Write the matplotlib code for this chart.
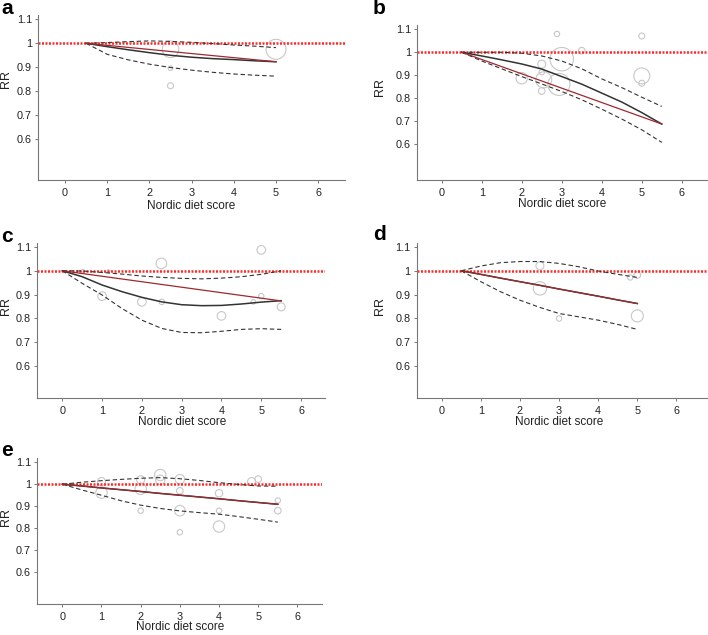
import matplotlib
matplotlib.use("Agg")
import matplotlib.pyplot as plt

plt.rcParams["font.family"] = ["Liberation Sans", "DejaVu Sans"]

W, H = 708, 635

# --- panel a ---
a_x = [0.5, 1, 1.5, 2, 2.5, 3, 3.5, 4, 4.5, 5]
a_fit = [1.0, 0.986, 0.973, 0.961, 0.950, 0.942, 0.936, 0.932, 0.927, 0.923]
a_up = [1.0, 1.003, 1.007, 1.010, 1.008, 1.004, 0.999, 0.993, 0.988, 0.982]
a_lo = [1.0, 0.954, 0.931, 0.913, 0.899, 0.888, 0.879, 0.872, 0.867, 0.863]
a_lin = [1.0, 0.923]
a_px = [2.5, 2.5, 2.5, 5.0]
a_py = [0.975, 0.896, 0.823, 0.975]
a_w = [8.3, 2.3, 3.0, 10.0]

# --- panel b ---
b_x = [0.5, 1, 1.5, 2, 2.5, 3, 3.5, 4, 4.5, 5, 5.5]
b_fit = [1.0, 0.984, 0.967, 0.949, 0.927, 0.894, 0.861, 0.822, 0.783, 0.737, 0.687]
b_up = [1.0, 1.0, 1.0, 0.996, 0.984, 0.962, 0.928, 0.884, 0.846, 0.804, 0.764]
b_lo = [1.0, 0.962, 0.928, 0.894, 0.862, 0.829, 0.793, 0.752, 0.709, 0.662, 0.607]
b_lin = [1.0, 0.687]
b_px = [2.88, 5.0, 3.5, 3.0, 2.5, 2.5, 2.0, 2.55, 2.93, 2.5, 5.0, 5.0]
b_py = [1.08, 1.071, 1.007, 0.97, 0.948, 0.913, 0.887, 0.88, 0.86, 0.831, 0.897, 0.865]
b_w = [2.7, 3.0, 3.3, 11.7, 4.0, 2.7, 5.7, 8.0, 11.0, 3.3, 8.0, 3.0]

# --- panel c ---
c_x = [0, 0.5, 1, 1.5, 2, 2.5, 3, 3.5, 4, 4.5, 5, 5.5]
c_fit = [1.0, 0.975, 0.940, 0.912, 0.888, 0.869, 0.857, 0.853, 0.854, 0.860, 0.868, 0.874]
c_up = [1.0, 0.999, 0.993, 0.986, 0.978, 0.972, 0.968, 0.966, 0.969, 0.975, 0.985, 1.0]
c_lo = [1.0, 0.947, 0.898, 0.841, 0.792, 0.757, 0.740, 0.739, 0.745, 0.753, 0.756, 0.753]
c_lin = [1.0, 0.873]
c_px = [1.0, 2.0, 2.49, 2.5, 4.0, 5.0, 5.0, 4.8, 5.5, 0.52, 1.16]
c_py = [0.893, 0.869, 1.031, 0.869, 0.81, 1.088, 0.893, 0.869, 0.848, 1.0, 0.998]
c_w = [4.3, 4.3, 5.3, 2.7, 4.3, 4.3, 2.7, 2.3, 4.0, 1.5, 1.5]

# --- panel d ---
d_x = [0.5, 1, 1.5, 2, 2.5, 3, 3.5, 4, 4.5, 5]
d_fit = [1.0, 0.985, 0.969, 0.954, 0.939, 0.923, 0.908, 0.893, 0.877, 0.862]
d_up = [1.0, 1.020, 1.034, 1.039, 1.039, 1.031, 1.017, 0.999, 0.985, 0.972]
d_lo = [1.0, 0.954, 0.912, 0.876, 0.846, 0.820, 0.806, 0.792, 0.774, 0.753]
d_lin = [1.0, 0.862]
d_px = [2.51, 2.51, 3.0, 4.82, 5.0, 5.0]
d_py = [1.021, 0.926, 0.799, 0.972, 0.982, 0.81]
d_w = [4.0, 6.7, 2.7, 2.7, 3.3, 6.0]

# --- panel e ---
e_x = [0, 0.5, 1, 1.5, 2, 2.5, 3, 3.5, 4, 4.5, 5, 5.5]
e_fit = [1.0, 0.992, 0.983, 0.975, 0.967, 0.958, 0.950, 0.942, 0.934, 0.925, 0.917, 0.909]
e_up = [1.0, 1.009, 1.016, 1.022, 1.027, 1.030, 1.025, 1.017, 1.007, 0.999, 0.992, 0.991]
e_lo = [1.0, 0.974, 0.950, 0.925, 0.905, 0.890, 0.879, 0.871, 0.864, 0.853, 0.841, 0.828]
e_lin = [1.0, 0.909]
e_px = [1.0, 1.0, 2.0, 2.0, 2.0, 2.5, 2.5, 3.0, 3.0, 3.0, 3.0, 4.0, 4.0, 4.0, 4.83, 5.0, 5.5, 5.5]
e_py = [1.012, 0.962, 1.02, 0.979, 0.88, 1.042, 1.02, 1.023, 0.97, 0.88, 0.782,
        0.959, 0.88, 0.808, 1.012, 1.023, 0.926, 0.88]
e_w = [4.0, 5.7, 4.0, 5.7, 2.7, 5.7, 4.7, 4.7, 3.3, 5.3, 2.7, 3.7, 2.7, 5.7, 4.0, 3.3, 2.7, 3.3]

xticks = [0, 1, 2, 3, 4, 5, 6]
yticks = [0.6, 0.7, 0.8, 0.9, 1.0, 1.1]
ytick_labels = ["0.6", "0.7", "0.8", "0.9", "1", "1.1"]

fig = plt.figure(figsize=(W / 100, H / 100), dpi=100)


def panel(letter, box, xlim, ylim, x, fit, up, lo, lin, px, py, w, lbl_xy, rr_x):
    left, top, right, bottom = box
    ax = fig.add_axes([left / W, 1 - bottom / H, (right - left) / W, (bottom - top) / H])
    ax.set_xlim(*xlim)
    ax.set_ylim(*ylim)

    ax.scatter(px, py, s=[(2 * r * 0.72) ** 2 for r in w], facecolors="none",
               edgecolors="#c8c8c8", linewidths=0.8, zorder=1, clip_on=False)
    ax.axhline(1.0, color="#ff2a2a", linestyle=(0, (0.8, 0.6)), linewidth=1.8, zorder=2)
    ax.plot(x, up, color="#333333", linestyle=(0, (4, 2.5)), linewidth=0.8, zorder=3)
    ax.plot(x, lo, color="#333333", linestyle=(0, (4, 2.5)), linewidth=0.8, zorder=3)
    ax.plot(x, fit, color="#333333", linewidth=1.1, zorder=4)
    ax.plot([x[0], x[-1]], lin, color="#9e2a2f", linewidth=0.9, zorder=5)

    for s in ("top", "right"):
        ax.spines[s].set_visible(False)
    for s in ("left", "bottom"):
        ax.spines[s].set_color("#777777")
        ax.spines[s].set_linewidth(0.8)
    ax.set_xticks(xticks)
    ax.set_yticks(yticks)
    ax.set_yticklabels(ytick_labels)
    ax.tick_params(axis="both", labelsize=7.8, colors="#777777", labelcolor="#222222",
                   length=2.5, width=0.7, pad=2)
    ax.tick_params(axis="x", pad=3)

    ax.text(3, ylim[0] - 0.108 * (ylim[1] - ylim[0]) / 0.69, "Nordic diet score",
            ha="center", va="center", fontsize=8.5, color="#222222", clip_on=False)
    fig.text(rr_x / W, 1 - (bottom - (bottom - top) * (0.85 - ylim[0]) / (ylim[1] - ylim[0])) / H,
             "RR", rotation=90, ha="center", va="center", fontsize=9, color="#222222")
    fig.text(lbl_xy[0] / W, 1 - lbl_xy[1] / H, letter, fontsize=15, fontweight="bold",
             ha="left", va="center")
    return ax


panel("a", (38.3, 15, 345, 180), (-0.633, 6.635), (0.430, 1.118),
      a_x, a_fit, a_up, a_lo, a_lin, a_px, a_py, a_w, (1, 8), 5.5)
panel("b", (417.3, 25, 707, 180), (-0.61, 6.63), (0.443, 1.119),
      b_x, b_fit, b_up, b_lo, b_lin, b_px, b_py, b_w, (373, 8), 380.5)
panel("c", (37.3, 243, 325, 398), (-0.628, 6.601), (0.464, 1.117),
      c_x, c_fit, c_up, c_lo, c_lin, c_px, c_py, c_w, (1, 237), 5.5)
panel("d", (416.7, 243, 707, 398), (-0.639, 6.78), (0.464, 1.117),
      d_x, d_fit, d_up, d_lo, d_lin, d_px, d_py, d_w, (373, 235), 380.5)
panel("e", (37.3, 458, 321.7, 604.3), (-0.638, 6.62), (0.455, 1.119),
      e_x, e_fit, e_up, e_lo, e_lin, e_px, e_py, e_w, (1, 450), 5.5)

fig.savefig("out.png", dpi=100)
